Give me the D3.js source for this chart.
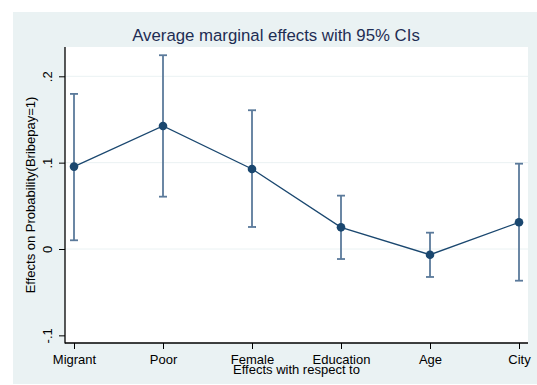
<!DOCTYPE html>
<html>
<head>
<meta charset="utf-8">
<script src="https://cdn.jsdelivr.net/npm/d3@7"></script>
<style>
  body { margin: 0; background: #fff; }
  svg { display: block; font-family: "Liberation Sans", Arial, sans-serif; }
</style>
</head>
<body>
<script>
const categories = ["Migrant", "Poor", "Female", "Education", "Age", "City"];
const effects = [0.0954, 0.1425, 0.0927, 0.0251, -0.0066, 0.0309];
const ciLower = [0.0101, 0.0606, 0.0255, -0.0116, -0.0324, -0.0367];
const ciUpper = [0.1796, 0.2244, 0.1607, 0.0618, 0.0189, 0.0988];
const yTicks = [-0.1, 0, 0.1, 0.2];
const yTickLabels = ["-.1", "0", ".1", ".2"];
const gridTicks = [0, 0.1, 0.2];

const W = 537, H = 385;
const svg = d3.select("body").append("svg").attr("width", W).attr("height", H);

// outer panel
svg.append("rect").attr("x", 13).attr("y", 12).attr("width", W - 13).attr("height", 372).attr("fill", "#eaf2f3");

const plot = { left: 65, right: 528, top: 47, bottom: 343 };
svg.append("rect").attr("x", plot.left).attr("y", plot.top)
  .attr("width", plot.right - plot.left).attr("height", plot.bottom - plot.top).attr("fill", "#ffffff");

const x = d3.scalePoint().domain(categories).range([74, 519]);
const y = d3.scaleLinear().domain([0, 0.2]).range([249, 76.3]);

// gridlines
svg.append("g").selectAll("line").data(gridTicks).join("line")
  .attr("x1", plot.left).attr("x2", plot.right)
  .attr("y1", d => y(d)).attr("y2", d => y(d))
  .attr("stroke", "#eaf2f3").attr("stroke-width", 1);

// y axis
const yAxis = d3.axisLeft(y).tickValues(yTicks).tickFormat((d, i) => yTickLabels[i]).tickSize(6).tickSizeOuter(0);
const gy = svg.append("g").attr("transform", `translate(${plot.left},0)`).call(yAxis);
gy.select(".domain").remove();
gy.append("line").attr("x1", 0).attr("x2", 0).attr("y1", plot.top).attr("y2", plot.bottom + 0.5).attr("stroke", "#000").attr("stroke-width", 1.3);
gy.selectAll(".tick line").attr("stroke", "#000").attr("stroke-width", 1);
gy.selectAll(".tick text")
  .attr("transform", "rotate(-90)")
  .attr("x", 0).attr("y", -13)
  .attr("dy", 0)
  .attr("text-anchor", "middle")
  .attr("font-size", 13).attr("fill", "#000")
  .attr("font-family", "Liberation Sans, Arial, sans-serif");

// x axis
const xAxis = d3.axisBottom(x).tickSize(6).tickSizeOuter(0);
const gx = svg.append("g").attr("transform", `translate(0,${plot.bottom})`).call(xAxis);
gx.select(".domain").remove();
gx.append("line").attr("x1", plot.left).attr("x2", plot.right).attr("y1", 0).attr("y2", 0).attr("stroke", "#000").attr("stroke-width", 1.3);
gx.selectAll(".tick line").attr("stroke", "#000").attr("stroke-width", 1);
gx.selectAll(".tick text")
  .attr("y", 21).attr("dy", 0)
  .attr("font-size", 13).attr("fill", "#000")
  .attr("font-family", "Liberation Sans, Arial, sans-serif");

// CI error bars
const ciColor = "#5b7a9b";
const bars = svg.append("g");
categories.forEach((c, i) => {
  const cx = x(c);
  bars.append("line").attr("x1", cx).attr("x2", cx).attr("y1", y(ciLower[i])).attr("y2", y(ciUpper[i]))
    .attr("stroke", ciColor).attr("stroke-width", 1.8);
  [ciLower[i], ciUpper[i]].forEach(v => {
    bars.append("line").attr("x1", cx - 4).attr("x2", cx + 4).attr("y1", y(v)).attr("y2", y(v))
      .attr("stroke", ciColor).attr("stroke-width", 1.8);
  });
});

// line + points
const mainColor = "#1a476f";
const line = d3.line().x((d, i) => x(categories[i])).y(d => y(d));
svg.append("path").datum(effects).attr("d", line).attr("fill", "none").attr("stroke", mainColor).attr("stroke-width", 1.3);
svg.append("g").selectAll("circle").data(effects).join("circle")
  .attr("cx", (d, i) => x(categories[i])).attr("cy", d => y(d)).attr("r", 4.3).attr("fill", mainColor);

// titles
svg.append("text").attr("x", 276).attr("y", 41).attr("text-anchor", "middle")
  .attr("font-size", 16.8).attr("fill", "#1e2d53").text("Average marginal effects with 95% CIs");
svg.append("text").attr("x", (plot.left + plot.right) / 2).attr("y", 374).attr("text-anchor", "middle")
  .attr("font-size", 13).attr("fill", "#000").text("Effects with respect to");
svg.append("text").attr("transform", `translate(35,${(plot.top + plot.bottom) / 2}) rotate(-90)`)
  .attr("text-anchor", "middle").attr("font-size", 13).attr("fill", "#000")
  .text("Effects on Probability(Bribepay=1)");
</script>
</body>
</html>
